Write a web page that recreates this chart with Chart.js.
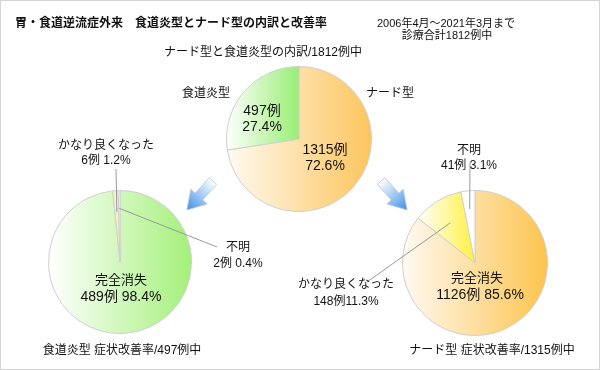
<!DOCTYPE html>
<html>
<head>
<meta charset="utf-8">
<script src="https://cdn.jsdelivr.net/npm/chart.js@4.4.0/dist/chart.umd.min.js"></script>
<style>
  html, body { margin: 0; padding: 0; background: #fff; }
  #wrap {
    position: relative; width: 598px; height: 368px;
    border: 1px solid #d4d4d4; background: #fff; overflow: hidden;
    font-family: "Liberation Sans", "Noto Sans CJK JP", sans-serif; color: #111;
  }
  #wrap canvas { position: absolute; left: -1px; top: -1px; }
  .t { position: absolute; white-space: nowrap; transform: translate(-50%, -50%); line-height: 1; }
  #arrows { position: absolute; left: -1px; top: -1px; }
</style>
</head>
<body>
<div id="wrap">
  <canvas id="topPie" width="600" height="370"></canvas>
  <canvas id="esoPie" width="600" height="370"></canvas>
  <canvas id="nerdPie" width="600" height="370"></canvas>
  <svg id="arrows" width="600" height="370">
    <defs>
      <linearGradient id="ag" x1="0" y1="0" x2="1" y2="0">
        <stop offset="0" stop-color="#ffffff"/>
        <stop offset="1" stop-color="#3d8fe8"/>
      </linearGradient>
    </defs>
    <g transform="translate(213,181) rotate(132)">
      <polygon points="0,-5 21,-5 21,-11 39,0 21,11 21,5 0,5" fill="url(#ag)" stroke="#b8c8d8" stroke-width="0.8"/>
    </g>
    <g transform="translate(381,181) rotate(48)">
      <polygon points="0,-5 21,-5 21,-11 39,0 21,11 21,5 0,5" fill="url(#ag)" stroke="#b8c8d8" stroke-width="0.8"/>
    </g>
  </svg>
</div>
<script>
// 内訳（全体）
const topLabels = ['ナード型', '食道炎型'];
const topValues = [1315, 497];
// 食道炎型 症状改善率
const esoLabels = ['完全消失', 'かなり良くなった', '不明'];
const esoValues = [489, 6, 2];
// ナード型 症状改善率
const nerdLabels = ['完全消失', 'かなり良くなった', '不明'];
const nerdValues = [1126, 148, 41];

const topColors = [['#fffaf2', '#fcc55c'], ['#ffffff', '#98ee74']];
const esoColors = [['#ffffff', '#a4f07a'], ['#fbf8cc', '#f6f0a8'], ['#ffffff', '#ffffff']];
const nerdColors = [['#fffaf2', '#fcc44e'], ['#ffffff', '#fff040'], ['#ffffff', '#ffffff']];

function pct(v, arr) {
  const total = arr.reduce((a, b) => a + b, 0);
  return (v / total * 100).toFixed(1) + '%';
}

// 各スライスの横幅に合わせたグラデーション
function sliceFill(stops) {
  return function (c) {
    const chart = c.chart, area = chart.chartArea;
    const s = stops[c.dataIndex];
    if (!area) return s[1];
    const vals = chart.data.datasets[0].data;
    const total = vals.reduce((a, b) => a + b, 0);
    let before = 0;
    for (let i = 0; i < c.dataIndex; i++) before += vals[i];
    const start = -Math.PI / 2 + 2 * Math.PI * before / total;
    const end = start + 2 * Math.PI * vals[c.dataIndex] / total;
    const cx = (area.left + area.right) / 2;
    const r = Math.min(area.width, area.height) / 2;
    const xs = [cx, cx + r * Math.cos(start), cx + r * Math.cos(end)];
    for (let k = -1; k <= 3; k++) {
      const a = k * Math.PI;
      if (a >= start && a <= end) xs.push(cx + r * Math.cos(a));
    }
    const x0 = Math.min(...xs), x1 = Math.max(...xs);
    if (x1 - x0 < 1) return s[1];
    const g = chart.ctx.createLinearGradient(x0, 0, x1, 0);
    g.addColorStop(0, s[0]);
    g.addColorStop(1, s[1]);
    return g;
  };
}

// 引き出し線
const leaderLines = {
  id: 'leaderLines',
  afterDatasetsDraw(chart, args, opts) {
    const ctx = chart.ctx;
    const arcs = chart.getDatasetMeta(0).data;
    ctx.save();
    ctx.strokeStyle = '#999';
    ctx.lineWidth = 1;
    (opts.lines || []).forEach(l => {
      const a = arcs[l.index];
      const mid = (a.startAngle + a.endAngle) / 2;
      const rr = a.outerRadius * l.frac;
      ctx.beginPath();
      ctx.moveTo(a.x + rr * Math.cos(mid), a.y + rr * Math.sin(mid));
      ctx.lineTo(l.to[0], l.to[1]);
      ctx.stroke();
    });
    ctx.restore();
  }
};

function makePie(id, labels, values, colors, padding, lines) {
  return new Chart(document.getElementById(id), {
    type: 'pie',
    data: {
      labels: labels,
      datasets: [{
        data: values,
        backgroundColor: sliceFill(colors),
        borderColor: '#cfcfcf',
        borderWidth: 1
      }]
    },
    options: {
      responsive: false,
      animation: false,
      events: [],
      layout: { padding: padding },
      plugins: {
        legend: { display: false },
        tooltip: { enabled: false },
        title: { display: false },
        leaderLines: { lines: lines }
      }
    },
    plugins: [leaderLines]
  });
}

makePie('topPie', topLabels, topValues, topColors,
  { left: 226, right: 228, top: 66, bottom: 158 }, []);
makePie('esoPie', esoLabels, esoValues, esoColors,
  { left: 48, right: 408, top: 190, bottom: 36 },
  [{ index: 1, frac: 0.7, to: [116, 169] }, { index: 2, frac: 0.75, to: [217, 247] }]);
makePie('nerdPie', nerdLabels, nerdValues, nerdColors,
  { left: 402, right: 52, top: 190, bottom: 34 },
  [{ index: 2, frac: 0.75, to: [470, 162] }, { index: 1, frac: 0.65, to: [367, 282] }]);

// テキスト
const wrap = document.getElementById('wrap');
function text(str, x, y, size, extra) {
  const d = document.createElement('div');
  d.className = 't';
  d.textContent = str;
  d.style.left = (x - 1) + 'px';
  d.style.top = (y - 1) + 'px';
  d.style.fontSize = size + 'px';
  if (extra) Object.assign(d.style, extra);
  wrap.appendChild(d);
}
text('胃・食道逆流症外来　食道炎型とナード型の内訳と改善率', 15, 23, 12, { transform: 'translate(0,-50%)', fontWeight: 'bold' });
text('2006年4月～2021年3月まで', 446, 23, 11);
text('診療合計1812例中', 447, 35, 11);
text('ナード型と食道炎型の内訳/1812例中', 263, 52, 12);

text(topLabels[1], 206, 93, 12);
text(topLabels[0], 390, 93, 12);
text(topValues[1] + '例', 262, 110, 14);
text(pct(topValues[1], topValues), 262, 126, 14);
text(topValues[0] + '例', 325, 149, 14);
text(pct(topValues[0], topValues), 325, 165, 14);

text(esoLabels[1], 106, 145, 12);
text(esoValues[1] + '例 ' + pct(esoValues[1], esoValues), 106, 160, 12);
text(esoLabels[2], 238, 247, 12);
text(esoValues[2] + '例 ' + pct(esoValues[2], esoValues), 238, 263, 12);
text(esoLabels[0], 121, 279, 13);
text(esoValues[0] + '例 ' + pct(esoValues[0], esoValues), 121, 296, 14);
text('食道炎型 症状改善率/' + esoValues.reduce((a, b) => a + b, 0) + '例中', 122, 350, 12);

text(nerdLabels[2], 469, 150, 12);
text(nerdValues[2] + '例 ' + pct(nerdValues[2], nerdValues), 469, 165, 12);
text(nerdLabels[1], 346, 284, 12);
text(nerdValues[1] + '例' + pct(nerdValues[1], nerdValues), 346, 301, 12);
text(nerdLabels[0], 477, 277, 13);
text(nerdValues[0] + '例 ' + pct(nerdValues[0], nerdValues), 480, 294, 14);
text('ナード型 症状改善率/' + nerdValues.reduce((a, b) => a + b, 0) + '例中', 492, 350, 12);
</script>
</body>
</html>
